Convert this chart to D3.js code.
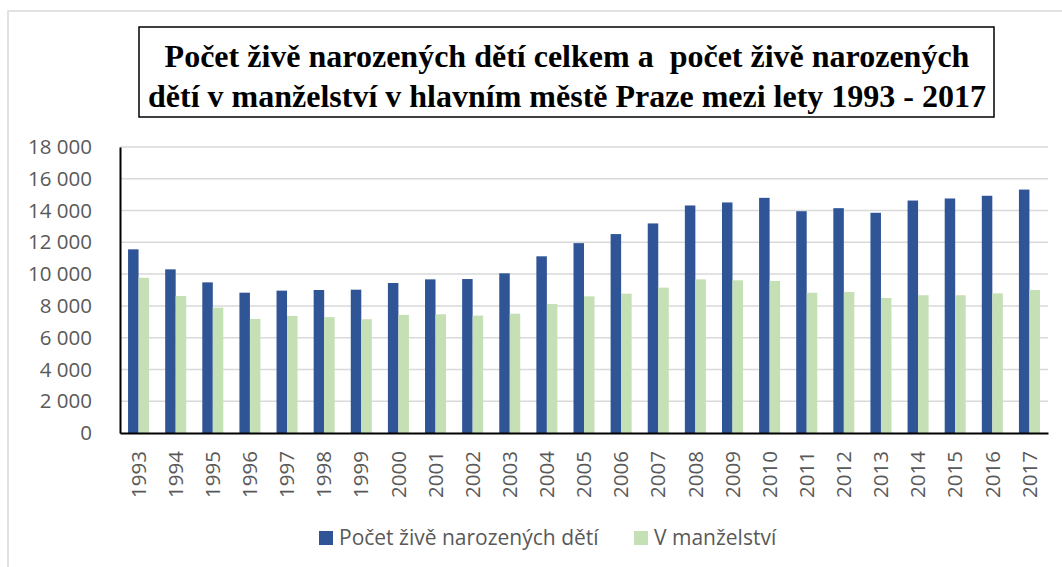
<!DOCTYPE html>
<html>
<head>
<meta charset="utf-8">
<script src="https://cdn.jsdelivr.net/npm/d3@7"></script>
<style>
  body { margin: 0; background: #fff; }
  svg { display: block; }
</style>
</head>
<body>
<svg id="chart" width="1062" height="567"></svg>
<script>
  // data
  const years = ["1993", "1994", "1995", "1996", "1997", "1998", "1999", "2000", "2001", "2002",
    "2003", "2004", "2005", "2006", "2007", "2008", "2009", "2010", "2011", "2012",
    "2013", "2014", "2015", "2016", "2017"];
  const totalBirths = [11560, 10300, 9480, 8830, 8960, 9000, 9020, 9440, 9670, 9690,
    10050, 11120, 11950, 12520, 13190, 14320, 14510, 14800, 13960, 14150,
    13860, 14630, 14760, 14930, 15320];
  const marriedBirths = [9770, 8620, 7890, 7180, 7370, 7290, 7160, 7430, 7470, 7390,
    7510, 8120, 8600, 8770, 9150, 9670, 9610, 9570, 8830, 8870,
    8500, 8670, 8670, 8790, 9000];
  const seriesNames = ["Počet živě narozených dětí", "V manželství"];
  const yTicks = [0, 2000, 4000, 6000, 8000, 10000, 12000, 14000, 16000, 18000];
  const titleLines = [
    "Počet živě narozených dětí celkem a  počet živě narozených",
    "dětí v manželství v hlavním městě Praze mezi lety 1993 - 2017"
  ];

  const colors = ["#2f5597", "#c5e0b4"];
  const textColor = "#595959";

  const svg = d3.select("#chart");
  const margin = {top: 147, right: 14, bottom: 134, left: 120};
  const width = 1062, height = 567;

  const fmt = d3.formatLocale({decimal: ",", thousands: " ", grouping: [3], currency: ["", ""]}).format(",");

  // outer chart border (only top and left are visible in the picture)
  svg.append("rect")
    .attr("x", 8).attr("y", 11)
    .attr("width", 1100).attr("height", 600)
    .attr("fill", "none")
    .attr("stroke", "#d9d9d9")
    .attr("stroke-width", 1.5);

  const x = d3.scaleBand()
    .domain(years)
    .range([margin.left, width - margin.right])
    .paddingInner(0.434)
    .paddingOuter(0.217);

  const x1 = d3.scaleBand()
    .domain(seriesNames)
    .range([0, x.bandwidth()]);

  const y = d3.scaleLinear()
    .domain([0, 18000])
    .range([height - margin.bottom, margin.top]);

  // gridlines
  svg.append("g")
    .selectAll("line")
    .data(yTicks.filter(d => d > 0))
    .enter().append("line")
    .attr("x1", margin.left)
    .attr("x2", width - margin.right)
    .attr("y1", d => y(d))
    .attr("y2", d => y(d))
    .attr("stroke", "#d9d9d9")
    .attr("stroke-width", 1.5);

  // bars
  const rows = years.map((yr, i) => ({year: yr, values: [totalBirths[i], marriedBirths[i]]}));

  svg.append("g")
    .selectAll("g")
    .data(rows)
    .enter().append("g")
    .attr("transform", d => `translate(${x(d.year)},0)`)
    .selectAll("rect")
    .data(d => d.values.map((v, k) => ({name: seriesNames[k], value: v, k: k})))
    .enter().append("rect")
    .attr("x", d => x1(d.name))
    .attr("width", x1.bandwidth())
    .attr("y", d => y(d.value))
    .attr("height", d => y(0) - y(d.value))
    .attr("fill", d => colors[d.k]);

  // y axis
  const yAxis = svg.append("g")
    .attr("transform", `translate(${margin.left},0)`)
    .call(d3.axisLeft(y).tickValues(yTicks).tickFormat(fmt).tickSize(0).tickPadding(28));
  yAxis.select(".domain").attr("stroke", "#000").attr("stroke-width", 2);
  yAxis.selectAll("text")
    .attr("fill", textColor)
    .attr("font-family", "Open Sans")
    .attr("font-size", 20.5);

  // x axis
  const xAxis = svg.append("g")
    .attr("transform", `translate(0,${y(0)})`)
    .call(d3.axisBottom(x).tickSize(0).tickSizeOuter(0).tickPadding(0));
  xAxis.select(".domain").attr("stroke", "#000").attr("stroke-width", 2);
  xAxis.selectAll("text")
    .attr("fill", textColor)
    .attr("font-family", "Open Sans")
    .attr("font-size", 20.5)
    .attr("text-anchor", "end")
    .attr("transform", "rotate(-90)")
    .attr("x", -18)
    .attr("y", 0)
    .attr("dy", "0.35em");

  // title box
  svg.append("rect")
    .attr("x", 139).attr("y", 27)
    .attr("width", 855).attr("height", 90)
    .attr("fill", "#fff")
    .attr("stroke", "#000")
    .attr("stroke-width", 1.5);

  svg.append("g")
    .selectAll("text")
    .data(titleLines)
    .enter().append("text")
    .attr("x", 567)
    .attr("y", (d, i) => 67 + i * 39.5)
    .attr("text-anchor", "middle")
    .attr("font-family", "Liberation Serif")
    .attr("font-weight", "bold")
    .attr("font-size", 32)
    .attr("fill", "#000")
    .style("white-space", "pre")
    .text(d => d);

  // legend
  const legendX = [319, 634];
  const legend = svg.append("g")
    .selectAll("g")
    .data(seriesNames)
    .enter().append("g")
    .attr("transform", (d, i) => `translate(${legendX[i]},531)`);

  legend.append("rect")
    .attr("width", 14)
    .attr("height", 14)
    .attr("fill", (d, i) => colors[i]);

  legend.append("text")
    .attr("x", 20)
    .attr("y", 14)
    .attr("fill", textColor)
    .attr("font-family", "Open Sans")
    .attr("font-size", 21)
    .text(d => d);
</script>
</body>
</html>
